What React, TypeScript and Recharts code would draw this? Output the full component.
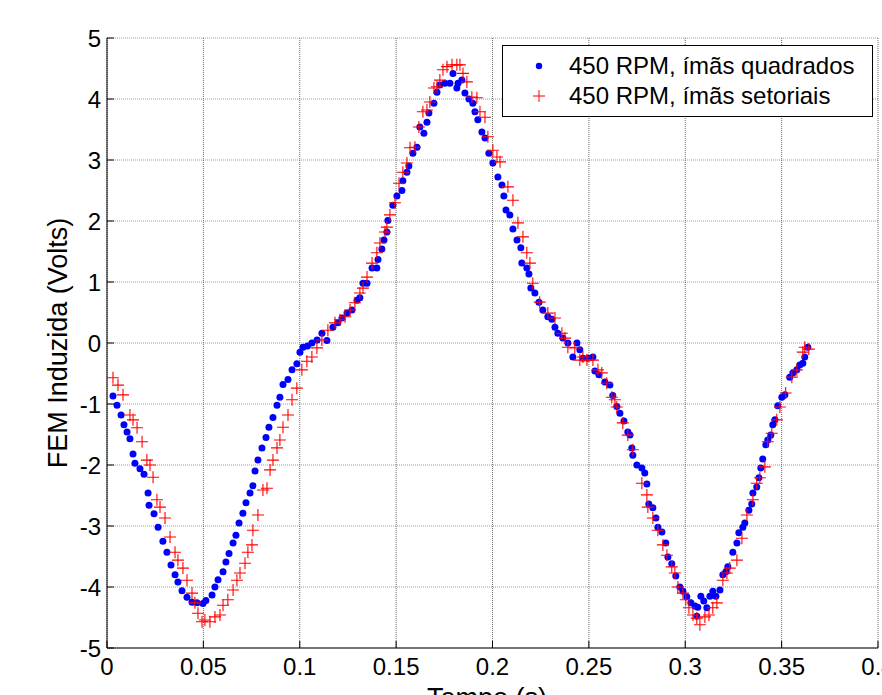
import { ScatterChart, Scatter, XAxis, YAxis, CartesianGrid, Legend } from 'recharts'

// 450 RPM, ímãs quadrados (blue dots)
const tempoQuad = [
  0.0031, 0.0052, 0.0073, 0.0088, 0.0104, 0.0119, 0.0135, 0.0145, 0.0171, 0.0192,
  0.0213, 0.0218, 0.0244, 0.0265, 0.029, 0.0311, 0.0332, 0.0353, 0.0368, 0.0389,
  0.0415, 0.0441, 0.0467, 0.0498, 0.0513, 0.0545, 0.056, 0.0576, 0.0602, 0.0617,
  0.0633, 0.0654, 0.0669, 0.0685, 0.0705, 0.0721, 0.0742, 0.0757, 0.0768, 0.0783,
  0.0804, 0.0825, 0.084, 0.0861, 0.0882, 0.0897, 0.0913, 0.0939, 0.096, 0.0985,
  0.1001, 0.1017, 0.104, 0.1063, 0.109, 0.1115, 0.1141, 0.1172, 0.1198, 0.1219,
  0.1245, 0.1271, 0.1297, 0.1312, 0.1328, 0.1349, 0.1375, 0.14, 0.1406, 0.1426,
  0.1437, 0.1452, 0.1457, 0.1483, 0.1504, 0.153, 0.1535, 0.1556, 0.1566, 0.1587,
  0.1608, 0.1623, 0.1644, 0.166, 0.167, 0.1696, 0.1712, 0.1727, 0.1753, 0.1779,
  0.1795, 0.1815, 0.1821, 0.1841, 0.1857, 0.1878, 0.1898, 0.1909, 0.1924, 0.1945,
  0.1961, 0.1981, 0.2002, 0.2028, 0.2049, 0.2059, 0.207, 0.209, 0.2106, 0.2127,
  0.2147, 0.2152, 0.2178, 0.2189, 0.2199, 0.222, 0.2241, 0.2261, 0.2287, 0.2308,
  0.2324, 0.2339, 0.2365, 0.2391, 0.2417, 0.2438, 0.2453, 0.2469, 0.2495, 0.2521,
  0.2531, 0.2552, 0.2583, 0.2609, 0.2624, 0.2645, 0.2661, 0.2682, 0.2702, 0.2713,
  0.2723, 0.2728, 0.2749, 0.2775, 0.279, 0.2801, 0.2811, 0.2832, 0.2848, 0.2858,
  0.2879, 0.2899, 0.291, 0.293, 0.2951, 0.2972, 0.2988, 0.3008, 0.3029, 0.305,
  0.306, 0.3065, 0.3081, 0.3096, 0.3112, 0.3128, 0.3143, 0.3159, 0.318, 0.3195,
  0.3211, 0.3221, 0.3247, 0.3268, 0.3278, 0.3299, 0.3309, 0.333, 0.3345, 0.3351,
  0.3371, 0.3382, 0.3392, 0.3402, 0.3418, 0.3428, 0.3444, 0.3454, 0.3465, 0.348,
  0.3501, 0.3517, 0.3542, 0.3558, 0.3579, 0.3594, 0.361, 0.362, 0.3636,
]
const femQuad = [
  -0.87, -1.02, -1.18, -1.34, -1.46, -1.57, -1.82, -1.97, -2.06, -2.15,
  -2.46, -2.66, -2.8, -3.02, -3.25, -3.43, -3.64, -3.8, -3.92, -4.06,
  -4.17, -4.25, -4.26, -4.27, -4.22, -4.13, -4.0, -3.88, -3.75, -3.59,
  -3.45, -3.28, -3.15, -2.95, -2.79, -2.62, -2.46, -2.34, -2.1, -1.92,
  -1.72, -1.55, -1.38, -1.22, -1.02, -0.89, -0.68, -0.6, -0.44, -0.34,
  -0.15, -0.07, -0.05, 0.0, 0.05, 0.16, 0.04, 0.26, 0.33, 0.41,
  0.49, 0.54, 0.7, 0.74, 0.98, 0.98, 1.23, 1.23, 1.37, 1.54,
  1.69, 1.82, 2.01, 2.26, 2.41, 2.5, 2.66, 2.8, 2.9, 3.11,
  3.21, 3.54, 3.44, 3.62, 3.77, 3.93, 4.11, 4.23, 4.26, 4.26,
  4.42, 4.18, 4.26, 4.31, 4.1, 4.0, 3.93, 3.79, 3.66, 3.46,
  3.36, 3.11, 2.95, 2.72, 2.59, 2.41, 2.18, 2.1, 1.87, 1.69,
  1.56, 1.31, 1.23, 1.13, 0.9, 0.82, 0.67, 0.54, 0.43, 0.39,
  0.26, 0.16, 0.08, 0.0, -0.23, 0.0, -0.11, -0.25, -0.25, -0.23,
  -0.46, -0.52, -0.64, -0.69, -0.86, -1.04, -1.15, -1.28, -1.46, -1.51,
  -1.72, -1.84, -2.0, -2.05, -2.13, -2.31, -2.64, -2.7, -2.87, -3.02,
  -3.1, -3.28, -3.51, -3.62, -3.82, -4.0, -4.07, -4.16, -4.26, -4.31,
  -4.48, -4.33, -4.15, -4.23, -4.34, -4.15, -4.07, -4.15, -4.05, -3.8,
  -3.75, -3.67, -3.43, -3.28, -3.11, -3.02, -2.95, -2.74, -2.64, -2.46,
  -2.36, -2.21, -2.05, -1.9, -1.67, -1.59, -1.51, -1.34, -1.26, -1.03,
  -0.89, -0.85, -0.56, -0.49, -0.44, -0.36, -0.33, -0.23, -0.07,
]

// 450 RPM, ímãs setoriais (red crosses)
const tempoSet = [
  0.0031, 0.0057, 0.0083, 0.0119, 0.0135, 0.0156, 0.0182, 0.0207, 0.0223, 0.0239,
  0.0259, 0.0275, 0.0301, 0.0327, 0.0353, 0.0368, 0.0394, 0.0415, 0.0441, 0.0456,
  0.0472, 0.0493, 0.0508, 0.0534, 0.056, 0.0586, 0.0602, 0.0627, 0.0654, 0.0674,
  0.069, 0.0716, 0.0731, 0.0752, 0.0757, 0.0783, 0.0809, 0.083, 0.0846, 0.0861,
  0.0882, 0.0897, 0.0913, 0.0939, 0.096, 0.0985, 0.1011, 0.1037, 0.1063, 0.1089,
  0.1115, 0.1146, 0.1183, 0.1209, 0.1235, 0.1261, 0.1286, 0.1312, 0.1328, 0.1349,
  0.1375, 0.14, 0.1416, 0.1442, 0.1452, 0.1468, 0.1494, 0.1515, 0.1535, 0.1556,
  0.1572, 0.1598, 0.1618, 0.1639, 0.166, 0.1675, 0.1696, 0.1712, 0.1727, 0.1743,
  0.1764, 0.179, 0.1815, 0.1831, 0.1847, 0.1867, 0.1893, 0.1919, 0.1935, 0.1961,
  0.1976, 0.2002, 0.2023, 0.2039, 0.208, 0.2106, 0.2132, 0.2158, 0.2178, 0.2194,
  0.2209, 0.2245, 0.2287, 0.2324, 0.236, 0.2376, 0.2391, 0.2427, 0.2453, 0.2469,
  0.249, 0.2521, 0.2547, 0.2567, 0.2593, 0.2619, 0.2635, 0.2645, 0.2676, 0.2702,
  0.2728, 0.2775, 0.2801, 0.2806, 0.2832, 0.2858, 0.2884, 0.2905, 0.293, 0.2946,
  0.2962, 0.2988, 0.3003, 0.3019, 0.304, 0.306, 0.3076, 0.3102, 0.3123, 0.3143,
  0.3164, 0.3195, 0.3216, 0.3231, 0.3268, 0.3294, 0.332, 0.3351, 0.3371, 0.3387,
  0.3413, 0.3428, 0.3449, 0.3475, 0.3491, 0.3521, 0.3553, 0.3579, 0.361, 0.362,
  0.3641,
]
const femSet = [
  -0.57, -0.69, -0.85, -1.18, -1.26, -1.39, -1.62, -1.92, -2.0, -2.2,
  -2.57, -2.69, -2.87, -3.18, -3.43, -3.56, -3.69, -3.89, -4.1, -4.26,
  -4.43, -4.57, -4.54, -4.57, -4.49, -4.46, -4.3, -4.21, -4.05, -3.89,
  -3.77, -3.61, -3.43, -3.31, -3.07, -2.82, -2.41, -2.38, -2.08, -1.92,
  -1.72, -1.59, -1.38, -1.18, -0.93, -0.74, -0.44, -0.3, -0.23, -0.08,
  0.05, 0.21, 0.33, 0.38, 0.43, 0.54, 0.66, 0.82, 0.9, 1.08,
  1.31, 1.48, 1.64, 1.82, 1.9, 2.1, 2.3, 2.62, 2.8, 2.95,
  3.2, 3.21, 3.54, 3.79, 3.82, 3.95, 4.18, 4.2, 4.31, 4.48,
  4.53, 4.56, 4.56, 4.56, 4.42, 4.28, 4.03, 4.02, 3.79, 3.7,
  3.38, 3.16, 3.05, 2.97, 2.56, 2.34, 1.97, 1.74, 1.48, 1.31,
  0.98, 0.67, 0.49, 0.41, 0.16, 0.08, -0.07, -0.08, -0.28, -0.23,
  -0.28, -0.28, -0.44, -0.49, -0.66, -0.89, -0.93, -1.05, -1.31, -1.51,
  -1.75, -2.3, -2.49, -2.69, -2.87, -3.07, -3.31, -3.48, -3.67, -3.77,
  -4.0, -4.1, -4.21, -4.34, -4.46, -4.51, -4.62, -4.49, -4.46, -4.34,
  -4.26, -3.89, -3.77, -3.69, -3.56, -3.2, -2.82, -2.57, -2.3, -2.21,
  -2.03, -1.62, -1.48, -1.26, -1.05, -0.82, -0.56, -0.44, -0.15, -0.07,
  -0.1,
]

const xTicks = [0, 0.05, 0.1, 0.15, 0.2, 0.25, 0.3, 0.35, 0.4]
const yTicks = [-5, -4, -3, -2, -1, 0, 1, 2, 3, 4, 5]

const quadData = tempoQuad.map((t, i) => ({ t, v: femQuad[i] }))
const setData = tempoSet.map((t, i) => ({ t, v: femSet[i] }))

const FONT = '"Liberation Sans", Arial, Helvetica, sans-serif'
const BLUE = '#0000ff'
const RED = '#ff0000'

const fmtX = (v: number) => String(Number(v.toFixed(2)))

const Dot = (props: any) => <circle cx={props.cx} cy={props.cy} r={3.5} fill={BLUE} />

const Cross = (props: any) => {
  const { cx, cy } = props
  return (
    <path
      d={`M${cx - 6},${cy}H${cx + 6}M${cx},${cy - 6}V${cy + 6}`}
      stroke={RED}
      strokeWidth={1.1}
      fill='none'
    />
  )
}

function LegendBox({ payload }: any) {
  return (
    <div
      style={{
        width: 371,
        height: 72,
        boxSizing: 'border-box',
        border: '1.5px solid #000',
        background: '#fff',
        fontFamily: FONT,
        fontSize: 24,
        color: '#000',
        paddingTop: 5,
      }}
    >
      {(payload || []).map((entry: any) => (
        <div key={entry.value} style={{ display: 'flex', alignItems: 'center', height: 30 }}>
          <svg width={66} height={30}>
            {entry.color === BLUE ? (
              <circle cx={36} cy={15} r={3.2} fill={BLUE} />
            ) : (
              <path d='M30,15H42M36,9V21' stroke={RED} strokeWidth={1} />
            )}
          </svg>
          <span style={{ whiteSpace: 'nowrap' }}>{entry.value}</span>
        </div>
      ))}
    </div>
  )
}

export default function App() {
  return (
    <div
      style={{
        position: 'fixed',
        left: 0,
        top: 0,
        width: 882,
        height: 695,
        overflow: 'hidden',
        background: '#fff',
      }}
    >
      <ScatterChart
        width={900}
        height={720}
        margin={{ top: 38, right: 22, bottom: 0, left: 0 }}
        style={{ fontFamily: FONT }}
      >
        <CartesianGrid horizontal={true} vertical={false} stroke='#9a9a9a' strokeDasharray='1 1' />
        <CartesianGrid horizontal={false} vertical={true} stroke='#6a6a6a' strokeDasharray='1 1' />
        <XAxis
          type='number'
          dataKey='t'
          domain={[0, 0.4]}
          ticks={xTicks}
          interval={0}
          allowDataOverflow
          height={72}
          tickFormatter={fmtX}
          tickSize={-7}
          tickMargin={17}
          stroke='#000'
          tick={{ fill: '#000', fontSize: 24 }}
          label={{
            content: () => (
              <text x={487} y={707} textAnchor='middle' fontSize={27} fill='#000' fontFamily={FONT}>
                Tempo (s)
              </text>
            ),
          }}
        />
        <XAxis
          xAxisId='top'
          orientation='top'
          type='number'
          dataKey='t'
          domain={[0, 0.4]}
          ticks={xTicks}
          interval={0}
          allowDataOverflow
          height={0}
          tickSize={-7}
          tickFormatter={() => ''}
          stroke='#000'
        />
        <YAxis
          type='number'
          dataKey='v'
          domain={[-5, 5]}
          ticks={yTicks}
          interval={0}
          allowDataOverflow
          width={107}
          tickSize={-7}
          tickMargin={13}
          stroke='#000'
          tick={{ fill: '#000', fontSize: 24 }}
          label={{
            content: () => (
              <text
                x={58}
                y={343}
                transform='rotate(-90 58 343)'
                textAnchor='middle'
                dominantBaseline='central'
                fontSize={27}
                fill='#000'
                fontFamily={FONT}
              >
                FEM Induzida (Volts)
              </text>
            ),
          }}
        />
        <YAxis
          yAxisId='right'
          orientation='right'
          type='number'
          dataKey='v'
          domain={[-5, 5]}
          ticks={yTicks}
          interval={0}
          allowDataOverflow
          width={0}
          tickSize={-7}
          tickFormatter={() => ''}
          stroke='#000'
        />
        <Legend
          layout='vertical'
          align='center'
          verticalAlign='middle'
          content={<LegendBox />}
          wrapperStyle={{ position: 'absolute', left: 502, top: 45, width: 371, height: 72 }}
        />
        <Scatter
          name='450 RPM, ímãs quadrados'
          data={quadData}
          fill={BLUE}
          shape={<Dot />}
          isAnimationActive={false}
        />
        <Scatter
          name='450 RPM, ímãs setoriais'
          data={setData}
          fill={RED}
          shape={<Cross />}
          isAnimationActive={false}
        />
      </ScatterChart>
    </div>
  )
}
